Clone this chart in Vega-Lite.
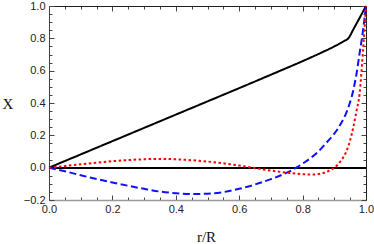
{
  "$schema": "https://vega.github.io/schema/vega-lite/v6.json",
  "width": 317,
  "height": 194,
  "autosize": "none",
  "padding": {"left": 49, "top": 6, "right": 8, "bottom": 44},
  "background": "white",
  "config": {"view": {"stroke": null}},
  "datasets": {
    "curves": [
      {"r": 0.0, "X": 0.0, "s": "black"},
      {"r": 0.1, "X": 0.082, "s": "black"},
      {"r": 0.2, "X": 0.164, "s": "black"},
      {"r": 0.3, "X": 0.246, "s": "black"},
      {"r": 0.4, "X": 0.328, "s": "black"},
      {"r": 0.5, "X": 0.41, "s": "black"},
      {"r": 0.6, "X": 0.492, "s": "black"},
      {"r": 0.7, "X": 0.575, "s": "black"},
      {"r": 0.8, "X": 0.659, "s": "black"},
      {"r": 0.85, "X": 0.703, "s": "black"},
      {"r": 0.9, "X": 0.75, "s": "black"},
      {"r": 0.93, "X": 0.782, "s": "black"},
      {"r": 0.945, "X": 0.802, "s": "black"},
      {"r": 0.96, "X": 0.855, "s": "black"},
      {"r": 0.98, "X": 0.927, "s": "black"},
      {"r": 1.0, "X": 1.0, "s": "black"},
      {"r": 0.0, "X": 0.0, "s": "blue"},
      {"r": 0.05, "X": -0.022, "s": "blue"},
      {"r": 0.1, "X": -0.047, "s": "blue"},
      {"r": 0.15, "X": -0.07, "s": "blue"},
      {"r": 0.2, "X": -0.092, "s": "blue"},
      {"r": 0.25, "X": -0.112, "s": "blue"},
      {"r": 0.3, "X": -0.131, "s": "blue"},
      {"r": 0.35, "X": -0.148, "s": "blue"},
      {"r": 0.4, "X": -0.158, "s": "blue"},
      {"r": 0.45, "X": -0.163, "s": "blue"},
      {"r": 0.5, "X": -0.161, "s": "blue"},
      {"r": 0.55, "X": -0.151, "s": "blue"},
      {"r": 0.6, "X": -0.131, "s": "blue"},
      {"r": 0.65, "X": -0.104, "s": "blue"},
      {"r": 0.7, "X": -0.071, "s": "blue"},
      {"r": 0.75, "X": -0.031, "s": "blue"},
      {"r": 0.78, "X": 0.0, "s": "blue"},
      {"r": 0.8, "X": 0.025, "s": "blue"},
      {"r": 0.85, "X": 0.1, "s": "blue"},
      {"r": 0.88, "X": 0.165, "s": "blue"},
      {"r": 0.9, "X": 0.21, "s": "blue"},
      {"r": 0.92, "X": 0.27, "s": "blue"},
      {"r": 0.94, "X": 0.35, "s": "blue"},
      {"r": 0.96, "X": 0.48, "s": "blue"},
      {"r": 0.97, "X": 0.58, "s": "blue"},
      {"r": 0.98, "X": 0.71, "s": "blue"},
      {"r": 0.99, "X": 0.84, "s": "blue"},
      {"r": 1.0, "X": 1.0, "s": "blue"},
      {"r": 0.0, "X": 0.0, "s": "red"},
      {"r": 0.05, "X": 0.01, "s": "red"},
      {"r": 0.1, "X": 0.021, "s": "red"},
      {"r": 0.15, "X": 0.031, "s": "red"},
      {"r": 0.2, "X": 0.04, "s": "red"},
      {"r": 0.25, "X": 0.047, "s": "red"},
      {"r": 0.3, "X": 0.052, "s": "red"},
      {"r": 0.35, "X": 0.054, "s": "red"},
      {"r": 0.4, "X": 0.052, "s": "red"},
      {"r": 0.45, "X": 0.046, "s": "red"},
      {"r": 0.5, "X": 0.038, "s": "red"},
      {"r": 0.55, "X": 0.027, "s": "red"},
      {"r": 0.6, "X": 0.013, "s": "red"},
      {"r": 0.65, "X": -0.003, "s": "red"},
      {"r": 0.7, "X": -0.018, "s": "red"},
      {"r": 0.75, "X": -0.031, "s": "red"},
      {"r": 0.8, "X": -0.04, "s": "red"},
      {"r": 0.83, "X": -0.043, "s": "red"},
      {"r": 0.86, "X": -0.036, "s": "red"},
      {"r": 0.88, "X": -0.022, "s": "red"},
      {"r": 0.9, "X": 0.0, "s": "red"},
      {"r": 0.92, "X": 0.04, "s": "red"},
      {"r": 0.94, "X": 0.11, "s": "red"},
      {"r": 0.95, "X": 0.17, "s": "red"},
      {"r": 0.96, "X": 0.25, "s": "red"},
      {"r": 0.97, "X": 0.35, "s": "red"},
      {"r": 0.98, "X": 0.46, "s": "red"},
      {"r": 0.99, "X": 0.71, "s": "red"},
      {"r": 1.0, "X": 1.0, "s": "red"}
    ]
  },
  "data": {"name": "curves"},
  "resolve": {"axis": {"x": "independent", "y": "independent"}},
  "layer": [
    {
      "mark": {"type": "rule", "color": "black", "strokeWidth": 0.9},
      "encoding": {
        "y": {
          "datum": 0,
          "type": "quantitative",
          "scale": {"domain": [-0.2, 1.0], "nice": false, "zero": false},
          "axis": {
            "orient": "left",
            "title": "X",
            "titleFont": "Liberation Serif",
            "titleFontSize": 15,
            "titleFontWeight": "normal",
            "titleColor": "#111",
            "titleAngle": 0,
            "titleX": -41.5,
            "titleY": 97,
            "titleAlign": "center",
            "titleBaseline": "middle",
            "values": [-0.2, -0.15, -0.1, -0.05, 0, 0.05, 0.1, 0.15, 0.2, 0.25, 0.3, 0.35, 0.4, 0.45, 0.5, 0.55, 0.6, 0.65, 0.7, 0.75, 0.8, 0.85, 0.9, 0.95, 1.0],
            "labelExpr": "abs(datum.value*5 - round(datum.value*5)) < 0.001 ? format(datum.value, '.1f') : ''",
            "labelFont": "Liberation Sans",
            "labelFontSize": 11,
            "labelColor": "#222",
            "labelPadding": 9,
            "labelBound": false,
            "labelOverlap": false,
            "labelFlush": false,
            "tickSize": {"condition": {"test": "abs(datum.value*5 - round(datum.value*5)) < 0.001", "value": -5}, "value": -3},
            "tickColor": "#444",
            "tickWidth": 1,
            "domainColor": "#444",
            "domainWidth": 1,
            "grid": false
          }
        }
      }
    },
    {
      "mark": {"type": "line", "interpolate": "monotone", "strokeWidth": 2, "strokeCap": "butt"},
      "encoding": {
        "x": {
          "field": "r",
          "type": "quantitative",
          "scale": {"domain": [0, 1], "nice": false, "zero": false},
          "axis": {
            "orient": "bottom",
            "title": "r/R",
            "titleFont": "Liberation Serif",
            "titleFontSize": 15,
            "titleFontWeight": "normal",
            "titleColor": "#111",
            "titleX": 157,
            "titleY": 41,
            "titleAlign": "center",
            "titleBaseline": "alphabetic",
            "values": [0, 0.05, 0.1, 0.15, 0.2, 0.25, 0.3, 0.35, 0.4, 0.45, 0.5, 0.55, 0.6, 0.65, 0.7, 0.75, 0.8, 0.85, 0.9, 0.95, 1.0],
            "labelExpr": "abs(datum.value*5 - round(datum.value*5)) < 0.001 ? format(datum.value, '.1f') : ''",
            "labelFont": "Liberation Sans",
            "labelFontSize": 11,
            "labelColor": "#222",
            "labelPadding": 8,
            "labelBound": false,
            "labelOverlap": false,
            "labelFlush": false,
            "tickSize": {"condition": {"test": "abs(datum.value*5 - round(datum.value*5)) < 0.001", "value": -5}, "value": -3},
            "tickColor": "#444",
            "tickWidth": 1,
            "domainColor": "#999",
            "domainWidth": 1.5,
            "grid": false
          }
        },
        "y": {"field": "X", "type": "quantitative", "axis": null},
        "color": {
          "field": "s",
          "type": "nominal",
          "scale": {"domain": ["black", "blue", "red"], "range": ["#000000", "#1010ff", "#ff0000"]},
          "legend": null
        },
        "strokeDash": {
          "field": "s",
          "type": "nominal",
          "scale": {"domain": ["black", "blue", "red"], "range": [[1, 0], [7, 3.5], [2.5, 2.5]]},
          "legend": null
        }
      }
    },
    {
      "mark": {"type": "point", "opacity": 0},
      "encoding": {
        "x": {
          "field": "r",
          "type": "quantitative",
          "axis": {
            "orient": "top",
            "title": null,
            "values": [0, 0.05, 0.1, 0.15, 0.2, 0.25, 0.3, 0.35, 0.4, 0.45, 0.5, 0.55, 0.6, 0.65, 0.7, 0.75, 0.8, 0.85, 0.9, 0.95, 1.0],
            "labels": false,
            "tickSize": {"condition": {"test": "abs(datum.value*5 - round(datum.value*5)) < 0.001", "value": -5}, "value": -3},
            "tickColor": "#444",
            "domainColor": "#222",
            "grid": false
          }
        },
        "y": {
          "field": "X",
          "type": "quantitative",
          "axis": {
            "orient": "right",
            "title": null,
            "values": [-0.2, -0.15, -0.1, -0.05, 0, 0.05, 0.1, 0.15, 0.2, 0.25, 0.3, 0.35, 0.4, 0.45, 0.5, 0.55, 0.6, 0.65, 0.7, 0.75, 0.8, 0.85, 0.9, 0.95, 1.0],
            "labels": false,
            "tickSize": {"condition": {"test": "abs(datum.value*5 - round(datum.value*5)) < 0.001", "value": -5}, "value": -3},
            "tickColor": "#444",
            "domainColor": "#222",
            "grid": false
          }
        }
      }
    }
  ]
}
